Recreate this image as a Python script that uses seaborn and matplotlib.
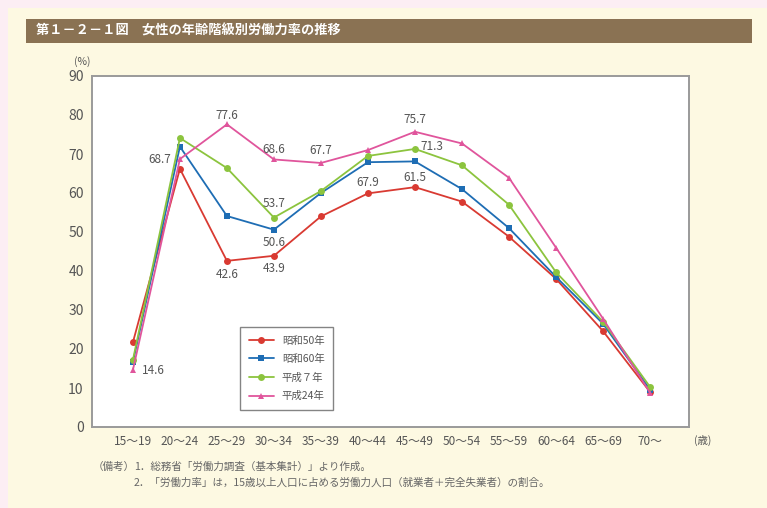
import pandas as pd
import matplotlib.pyplot as plt
import seaborn as sns
from matplotlib.patches import Rectangle

# DATA
ages = ["15～19", "20～24", "25～29", "30～34", "35～39", "40～44",
        "45～49", "50～54", "55～59", "60～64", "65～69", "70～"]
s50 = [21.7, 66.2, 42.6, 43.9, 54.0, 59.9, 61.5, 57.8, 48.8, 38.0, 24.6, 9.0]
s60 = [16.6, 71.9, 54.1, 50.6, 60.0, 67.9, 68.1, 61.0, 51.0, 38.5, 26.5, 9.6]
h07 = [17.2, 74.1, 66.4, 53.7, 60.5, 69.5, 71.3, 67.1, 57.0, 39.7, 27.0, 10.3]
h24 = [14.6, 68.7, 77.6, 68.6, 67.7, 71.0, 75.7, 72.7, 63.9, 46.0, 27.8, 8.8]
series = ["昭和50年", "昭和60年", "平成７年", "平成24年"]

df = pd.DataFrame({"age": ages, series[0]: s50, series[1]: s60,
                   series[2]: h07, series[3]: h24})
long = df.melt(id_vars="age", var_name="year", value_name="rate")

colors = {"昭和50年": "#D93A32", "昭和60年": "#1E6DB4",
          "平成７年": "#8CC43E", "平成24年": "#E0559C"}
markers = {"昭和50年": "o", "昭和60年": "s", "平成７年": "o", "平成24年": "^"}

sns.set_style("white")
plt.rcParams['font.family'] = ['Noto Sans CJK JP', 'DejaVu Sans']

fig = plt.figure(figsize=(7.67, 5.08), dpi=100)
fig.patch.set_facecolor("#FCEEF4")
W, H = 767, 508
# cream panel
fig.patches.append(Rectangle((8 / W, 0), 1, 1 - 8 / H, transform=fig.transFigure,
                             facecolor="#FDF9E2", edgecolor="none", zorder=0))
# title bar
fig.patches.append(Rectangle((26 / W, 1 - 43 / H), (752 - 26) / W, 24 / H,
                             transform=fig.transFigure, facecolor="#8A7253",
                             edgecolor="none", zorder=1))
fig.text(36 / W, 1 - 31 / H, "第１－２－１図　女性の年齢階級別労働力率の推移",
         color="white", fontsize=9.5, fontweight="bold", va="center")

ax = fig.add_axes([92 / W, 1 - 427 / H, (689 - 92) / W, (427 - 76) / H])
ax.set_zorder(5)
ax.set_facecolor("white")

sns.lineplot(data=long, x="age", y="rate", hue="year", style="year",
             hue_order=series, style_order=series, palette=colors,
             markers=markers, dashes=False, sort=False, linewidth=1.3,
             markersize=5, markeredgewidth=0, ax=ax)

ax.set_ylim(0, 90)
ax.set_xlim(-0.87, 11.83)
ax.set_yticks(range(0, 91, 10))
ax.set_xlabel("")
ax.set_ylabel("")
ax.tick_params(direction="in", length=4, color="#999999", labelcolor="#555555",
               labelsize=8.5, pad=6)
ax.tick_params(axis="y", labelsize=10)
for sp in ax.spines.values():
    sp.set_color("#9A9A9A")
    sp.set_linewidth(1.4)

# (%) and (歳)
fig.text(82 / W, 1 - 62 / H, "(%)", fontsize=7.5, color="#555555", ha="center", va="center")
fig.text(703 / W, 1 - 440 / H, "(歳)", fontsize=7.5, color="#555555", ha="center", va="center")

# data labels
lab = dict(fontsize=8.5, color="#555555")
ax.text(0.2, 14.6, "14.6", ha="left", va="center", **lab)
ax.text(0.82, 68.5, "68.7", ha="right", va="center", **lab)
ax.text(2, h24[2] + 2.2, "77.6", ha="center", va="center", **lab)
ax.text(3, h24[3] + 2.5, "68.6", ha="center", va="center", **lab)
ax.text(4, h24[4] + 3.2, "67.7", ha="center", va="center", **lab)
ax.text(3, h07[3] + 3.6, "53.7", ha="center", va="center", **lab)
ax.text(3, s60[3] - 3.2, "50.6", ha="center", va="center", **lab)
ax.text(2, s50[2] - 3.4, "42.6", ha="center", va="center", **lab)
ax.text(3, s50[3] - 3.2, "43.9", ha="center", va="center", **lab)
ax.text(5, 62.6, "67.9", ha="center", va="center", **lab)
ax.text(6, 63.9, "61.5", ha="center", va="center", **lab)
ax.text(6, h24[6] + 3.2, "75.7", ha="center", va="center", **lab)
ax.text(6.12, 71.9, "71.3", ha="left", va="center", **lab)

# legend
leg = ax.legend(loc="upper left", bbox_to_anchor=((235 - 92) / (689 - 92), (427 - 322) / (427 - 76)),
                frameon=True, fontsize=7.5, handlelength=2.4, borderpad=0.8,
                labelspacing=0.8, fancybox=False, edgecolor="#666666")
leg.get_frame().set_linewidth(1.0)
for t in leg.get_texts():
    t.set_color("#555555")

# notes
note = dict(fontsize=7.6, color="#666666", va="center")
fig.text(93 / W, 1 - 467 / H, "（備考）", **note)
fig.text(134 / W, 1 - 467 / H, "1．総務省「労働力調査（基本集計）」より作成。", **note)
fig.text(134 / W, 1 - 483 / H, "2．「労働力率」は，15歳以上人口に占める労働力人口（就業者＋完全失業者）の割合。", **note)

fig.savefig("out.png", dpi=100, facecolor=fig.get_facecolor())
